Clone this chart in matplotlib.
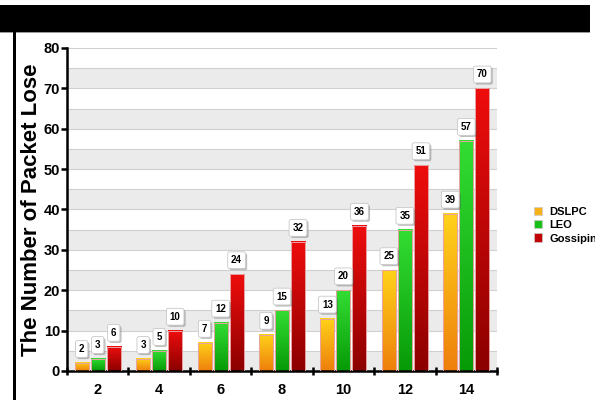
import numpy as np
import matplotlib
matplotlib.use("Agg")
import matplotlib.pyplot as plt
import matplotlib.patheffects as pe
from matplotlib.colors import LinearSegmentedColormap
from matplotlib.patches import Rectangle, Patch

plt.rcParams["font.family"] = ["Liberation Sans", "DejaVu Sans"]
plt.rcParams["font.weight"] = "bold"

nodes = ["2", "4", "6", "8", "10", "12", "14"]
dslpc = [2, 3, 7, 9, 13, 25, 39]
leo = [3, 5, 12, 15, 20, 35, 57]
gossiping = [6, 10, 24, 32, 36, 51, 70]

# name, values, top colour, bottom colour, legend colour
series = [
    ("DSLPC", dslpc, "#ffd21a", "#ee7f0c", "#f5b21a"),
    ("LEO", leo, "#33dd33", "#079a07", "#19c019"),
    ("Gossiping", gossiping, "#ee0d0d", "#8c0000", "#c20606"),
]

fig = plt.figure(figsize=(5.95, 4.0), dpi=100)

# black title band and left border line
fig.patches.append(Rectangle((0, 0.92), 590 / 595, 0.0675, transform=fig.transFigure,
                             facecolor="black", edgecolor="none", zorder=0))
fig.patches.append(Rectangle((0, 0.9175), 590 / 595, 0.003, transform=fig.transFigure,
                             facecolor="#999999", edgecolor="none", zorder=0))
fig.patches.append(Rectangle((13 / 595, 0), 2.5 / 595, 0.92, transform=fig.transFigure,
                             facecolor="black", edgecolor="none", zorder=0))

ax = fig.add_axes([67 / 595, 29 / 400, 430 / 595, 323 / 400])

# alternating bands and grid
for lo in range(0, 80, 10):
    ax.axhspan(lo, lo + 5, color="#ebebeb", zorder=0, lw=0)
for v in range(5, 85, 5):
    ax.axhline(v, color="#d0d0d0", lw=0.8, zorder=0.5)

x = np.arange(len(nodes)) + 0.5
width = 0.228
step = 0.261
grad = np.linspace(0, 1, 64).reshape(-1, 1)
shadow = [pe.SimplePatchShadow(offset=(1.2, -1.2), alpha=0.35), pe.Normal()]

for i, (name, vals, top, bottom, _) in enumerate(series):
    cmap = LinearSegmentedColormap.from_list(name, [bottom, top])
    xs = x + (i - 1) * step
    for xc, v in zip(xs, vals):
        ax.imshow(grad, extent=[xc - width / 2, xc + width / 2, 0, v], origin="lower",
                  aspect="auto", cmap=cmap, zorder=2, interpolation="bilinear")
        ax.add_patch(Rectangle((xc - width / 2, 0), width, v, facecolor="none",
                               edgecolor="#e9a3a3", lw=0.7, zorder=3))
        t = ax.annotate(str(v), (xc, v), xytext=(0, 10), textcoords="offset points",
                        ha="center", va="center", fontsize=7, fontweight="bold", zorder=5,
                        bbox=dict(boxstyle="round,pad=0.35,rounding_size=0.2", fc="white",
                                  ec="#c8c8c8", lw=0.6))
        t.get_bbox_patch().set_path_effects(shadow)

ax.set_xlim(0, len(nodes))
ax.set_ylim(0, 80)

ax.spines["top"].set_visible(False)
ax.spines["right"].set_visible(False)
ax.spines["left"].set_linewidth(1.8)
ax.spines["bottom"].set_linewidth(1.8)

ax.set_yticks(range(0, 90, 10))
ax.tick_params(axis="y", length=4, width=1.8, labelsize=10.5, pad=1)
ax.set_xticks(np.arange(0, len(nodes) + 1))
ax.set_xticklabels([])
ax.tick_params(axis="x", which="major", length=6, width=1.8, direction="inout")
ax.set_xticks(x, minor=True)
ax.set_xticklabels(nodes, minor=True, fontsize=10.5, fontweight="bold")
ax.tick_params(axis="x", which="minor", length=0, pad=9)

ax.set_ylabel("The Number of Packet Lose", fontsize=16, fontweight="bold", labelpad=1)

handles = [Patch(facecolor=s[4], edgecolor="#cccccc", lw=0.5, label=s[0]) for s in series]
fig.legend(handles=handles, loc="center left", bbox_to_anchor=(528 / 595, 1 - 225 / 400),
           frameon=False, fontsize=8, handlelength=0.8, handleheight=0.8,
           handletextpad=0.6, labelspacing=0.3, borderpad=0)

fig.savefig("out.png", dpi=100)
